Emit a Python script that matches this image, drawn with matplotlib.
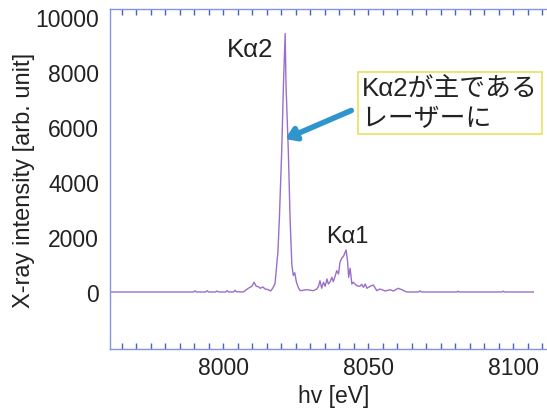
import matplotlib
matplotlib.use("Agg")
import matplotlib.pyplot as plt
from matplotlib.ticker import MultipleLocator, FixedLocator

plt.rcParams['font.family'] = ['Liberation Sans', 'Noto Sans CJK JP', 'DejaVu Sans']

# spectrum (eV, arb. unit)
energy = [7961.0, 7989.8, 7990.3, 7990.8, 7994.0, 7994.5, 7995.0, 7997.4, 7997.9,
          7998.4, 8000.9, 8001.4, 8001.9, 8003.6, 8004.1, 8004.6, 8007.0, 8008.7,
          8009.9, 8010.7, 8011.4, 8012.2, 8012.8, 8013.7, 8014.5, 8015.6, 8016.4,
          8017.1, 8017.9, 8018.9, 8019.4, 8020.2, 8020.8, 8021.4, 8021.7, 8022.5,
          8023.1, 8023.7, 8024.2, 8024.7, 8025.3, 8026.0, 8026.6, 8028.9, 8031.1,
          8032.3, 8032.9, 8033.4, 8034.0, 8034.6, 8035.2, 8035.8, 8036.3, 8036.9,
          8037.5, 8038.0, 8038.6, 8039.2, 8039.8, 8040.3, 8040.9, 8041.5, 8042.4,
          8042.9, 8043.3, 8043.8, 8044.4, 8044.9, 8046.1, 8047.2, 8047.8, 8048.4,
          8049.0, 8049.6, 8050.7, 8051.8, 8053.0, 8054.1, 8055.9, 8057.6, 8058.7,
          8060.4, 8061.6, 8063.3, 8067.4, 8067.9, 8068.4, 8080.6, 8081.0, 8081.4,
          8096.2, 8096.6, 8097.0, 8107.0]
intensity = [0, 0, 40, 0, 0, 45, 0, 0, 35, 0, 0, 50, 0, 0, 60, 10, 0, 135,
             207, 353, 207, 193, 135, 182, 109, 84, 36, 135, 300, 1455, 2655, 5091,
             7502, 9400, 7502, 5091, 2655, 1000, 600, 700, 350, 150, 47, 84, 47,
             109, 207, 411, 135, 353, 207, 473, 291, 375, 534, 375, 571, 775, 655,
             1080, 1225, 1298, 1527, 1138, 534, 862, 291, 353, 229, 207, 280, 171,
             291, 135, 207, 255, 47, 109, 36, 84, 36, 135, 84, 0, 0, 40, 0,
             0, 30, 0, 0, 30, 0, 0]

y_ticks = [0, 2000, 4000, 6000, 8000, 10000]
x_ticks = [8000, 8050, 8100]

peak_labels = ['Kα2', 'Kα1']
peak_label_pos = [(8009.3, 8836), (8042.8, 2036)]
note_text = 'Kα2が主である\nレーザーに'

fig = plt.figure(figsize=(5.47, 4.10), dpi=100)
ax = fig.add_axes([110 / 547, 60 / 410, 446.6 / 547, 340 / 410])

ax.plot(energy, intensity, color='#9a6fc8', lw=1.0)

ax.set_xlim(7961, 8115)
ax.set_ylim(-2073, 10290)

spine_col = '#8494e2'
for s in ['left', 'top', 'bottom']:
    ax.spines[s].set_color(spine_col)
    ax.spines[s].set_linewidth(1.0)
ax.spines['right'].set_visible(False)

ax.xaxis.set_major_locator(FixedLocator(x_ticks))
ax.xaxis.set_minor_locator(MultipleLocator(5))
ax.tick_params(axis='x', which='both', direction='in', length=4, width=1,
               color='#4a5fc0', top=True, labelsize=16.5, pad=5,
               labelcolor='#222222')
ax.set_yticks(y_ticks)
ax.tick_params(axis='y', which='major', length=0, labelsize=16.5, pad=8,
               labelcolor='#222222')
ax.yaxis.set_minor_locator(FixedLocator([0]))
ax.tick_params(axis='y', which='minor', direction='in', length=2, width=1.5,
               color='#e04040')

ax.set_xlabel('hv [eV]', fontsize=16.5, color='#222222', labelpad=4)
ax.set_ylabel('X-ray intensity [arb. unit]', fontsize=17, color='#222222',
              labelpad=0)

for lab, (px, py), fs in zip(peak_labels, peak_label_pos, [18.5, 17]):
    ax.text(px, py, lab, fontsize=fs, ha='center', va='center', color='#222222')

ax.annotate('', xy=(8021.4, 5564), xytext=(8044.2, 6600),
            arrowprops=dict(arrowstyle='-|>,head_length=0.6,head_width=0.4',
                            color='#2f95cc', lw=4, shrinkA=0, shrinkB=0))

fig.text(362 / 547, 1 - 104 / 410, note_text + '  ', fontsize=18.6, ha='left',
         va='center', color='#222222', linespacing=1.3,
         bbox=dict(boxstyle='square,pad=0.15', facecolor='white',
                   edgecolor='#e8e060', lw=1.2))

fig.savefig('out.png', dpi=100)
